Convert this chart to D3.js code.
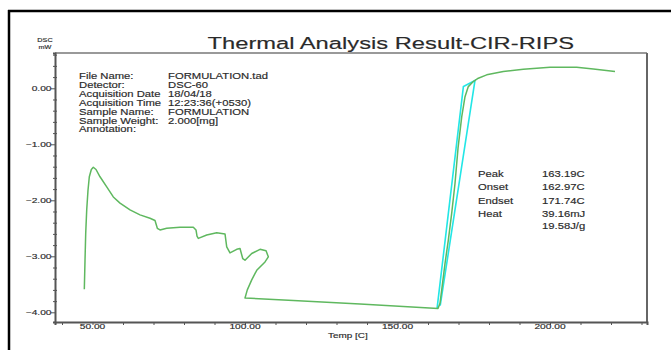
<!DOCTYPE html>
<html><head><meta charset="utf-8">
<script src="https://cdn.jsdelivr.net/npm/d3@7"></script>
<style>body{margin:0;background:#fff}svg{display:block}</style>
</head><body>
<script>
// ---- data ----
const curveTemp = [47.31,47.54,47.77,48.10,48.52,48.95,49.61,50.26,51.15,52.46,54.66,56.82,59.02,62.30,65.57,68.85,70.49,71.25,72.13,74.33,78.69,83.05,83.93,84.26,84.69,87.44,90.72,93.44,94.00,95.08,97.28,98.36,99.25,100.00,102.20,104.92,106.90,107.64,106.56,103.84,102.20,100.75,100.00,115.84,137.70,163.28,163.93,164.49,165.57,166.66,167.77,168.85,169.84,171.05,172.13,173.21,174.85,176.49,179.25,184.69,191.25,200.00,208.75,214.20,221.31];
const curveDSC  = [-3.59,-3.07,-2.59,-2.17,-1.82,-1.58,-1.45,-1.41,-1.45,-1.58,-1.76,-1.94,-2.05,-2.17,-2.26,-2.32,-2.36,-2.50,-2.53,-2.50,-2.48,-2.48,-2.53,-2.64,-2.68,-2.62,-2.58,-2.60,-2.83,-2.94,-2.875,-2.86,-3.04,-3.07,-2.95,-2.875,-2.90,-3.01,-3.10,-3.25,-3.42,-3.60,-3.745,-3.79,-3.85,-3.93,-3.84,-3.60,-3.13,-2.71,-2.23,-1.70,-1.07,-0.51,-0.15,0.03,0.12,0.18,0.24,0.30,0.34,0.375,0.375,0.345,0.30];
const tangentTemp = [162.97,171.6,175.4,164.0];
const tangentDSC  = [-3.93,0.03,0.14,-3.88];
const xMajorTicks = [50,100,150,200];
const yMajorTicks = [0,-1,-2,-3,-4];
const infoLabels = ["File Name:","Detector:","Acquisition Date","Acquisition Time","Sample Name:","Sample Weight:","Annotation:"];
const infoValues = ["FORMULATION.tad","DSC-60","18/04/18","12:23:36(+0530)","FORMULATION","2.000[mg]",""];
const resultLabels = ["Peak","Onset","Endset","Heat",""];
const resultValues = ["163.19C","162.97C","171.74C","39.16mJ","19.58J/g"];
const title = "Thermal Analysis Result-CIR-RIPS";

// ---- layout ----
const W = 671, H = 350;
const L = 55, R = 647, T = 53, B = 322;
const SX = 1.36;
const font = "'Liberation Sans', Arial, sans-serif";
const txt = "#2a2a2a";

const svg = d3.select("body").append("svg").attr("width", W).attr("height", H);

const x = d3.scaleLinear().domain([37.7, 231.8]).range([L, R]);
const y = d3.scaleLinear().domain([0.63, -4.173]).range([T, B]);

function stext(g, px, py, s, size, anchor, sx) {
  return g.append("text")
    .attr("transform", `translate(${px},${py}) scale(${sx || SX},1)`)
    .attr("text-anchor", anchor || "start")
    .attr("font-family", font).attr("font-size", size).attr("fill", txt)
    .attr("stroke", txt).attr("stroke-width", 0.15)
    .text(s);
}

// outer frame
svg.append("line").attr("x1", 8).attr("x2", W).attr("y1", 11).attr("y2", 11).attr("stroke", "#000").attr("stroke-width", 2.5);
svg.append("line").attr("x1", 9).attr("x2", 9).attr("y1", 10).attr("y2", H).attr("stroke", "#000").attr("stroke-width", 2.5);

// title
stext(svg, 207.5, 48.7, title, 17.2, "start", 1.38);

// plot border top/right
svg.append("line").attr("x1", L).attr("x2", R).attr("y1", T).attr("y2", T).attr("stroke", "#999").attr("stroke-width", 2);
svg.append("line").attr("x1", R).attr("x2", R).attr("y1", T).attr("y2", B).attr("stroke", "#666").attr("stroke-width", 2);

// axes
const xMinor = d3.range(40, 231, 10);
const yMinor = d3.range(-4.0, 0.61, 0.2);
const gx = svg.append("g").attr("transform", `translate(0,${B})`)
  .call(d3.axisBottom(x).tickValues(xMinor).tickSize(3).tickFormat(""));
const gy = svg.append("g").attr("transform", `translate(${L},0)`)
  .call(d3.axisLeft(y).tickValues(yMinor).tickSize(2).tickFormat(""));
[gx, gy].forEach(g => {
  g.select(".domain").attr("stroke", "#555").attr("stroke-width", 2);
  g.selectAll(".tick line").attr("stroke", "#555");
});
gy.selectAll(".tick").filter(d => yMajorTicks.some(m => Math.abs(m - d) < 1e-6)).select("line").attr("x2", -4);
gy.selectAll(".tick").filter(d => !yMajorTicks.some(m => Math.abs(m - d) < 1e-6)).select("line").attr("x1", 2).attr("x2", -2);

// tick labels
xMajorTicks.forEach(v => stext(svg, x(v), 329, d3.format(".2f")(v), 7.5, "middle"));
yMajorTicks.forEach(v => stext(svg, 51.5, y(v) + 2.7, d3.format(".2f")(v), 7.5, "end"));
stext(svg, 328, 337.5, "Temp  [C]", 7.3, "start");
stext(svg, 45, 42, "DSC", 5.8, "middle", 1.25);
stext(svg, 45, 48.8, "mW", 5.8, "middle", 1.25);

// info block
infoLabels.forEach((s, i) => stext(svg, 79, 79 + i * 8.9, s, 8.3, "start"));
infoValues.forEach((s, i) => stext(svg, 168, 79 + i * 8.9, s, 8.3, "start"));

// results block
const resY = [177.3, 190.3, 203.7, 217, 228.7];
resultLabels.forEach((s, i) => stext(svg, 478, resY[i], s, 8.3, "start"));
resultValues.forEach((s, i) => stext(svg, 542, resY[i], s, 8.3, "start"));

// tangent lines (cyan)
const tData = tangentTemp.map((t, i) => [t, tangentDSC[i]]);
svg.append("path").datum(tData)
  .attr("d", d3.line().x(d => x(d[0])).y(d => y(d[1])))
  .attr("fill", "none").attr("stroke", "#22e6e6").attr("stroke-width", 1.6);

// DSC curve (green)
const cData = curveTemp.map((t, i) => [t, curveDSC[i]]);
svg.append("path").datum(cData)
  .attr("d", d3.line().x(d => x(d[0])).y(d => y(d[1])))
  .attr("fill", "none").attr("stroke", "#5fb85f").attr("stroke-width", 1.5).attr("stroke-linejoin", "round");
</script>
</body></html>
